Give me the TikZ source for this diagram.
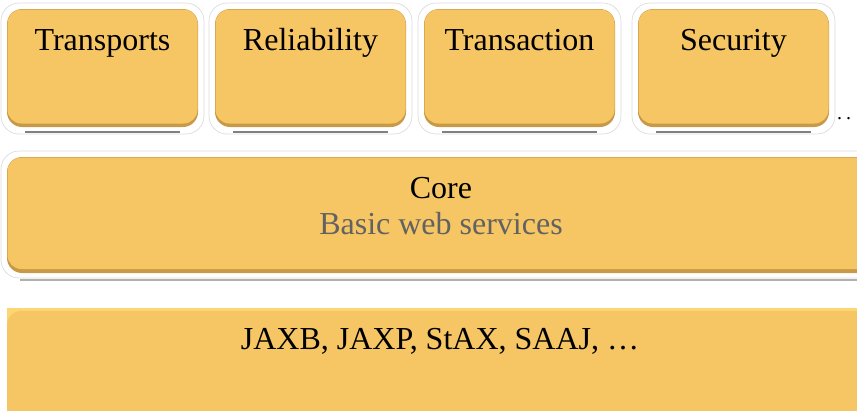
\documentclass[tikz,border=0pt]{standalone}
\usepackage{fontspec}
\setmainfont{Liberation Serif}

\definecolor{boxfill}{HTML}{F6C664}
\definecolor{boxedge}{HTML}{C89A48}
\definecolor{boxtop}{HTML}{FCD670}
\definecolor{halo}{HTML}{DCDCDC}
\definecolor{subtext}{HTML}{626262}

\tikzset{
  glow/.style={draw=halo, fill=white, line width=0.7pt, rounded corners=18pt},
  layerbase/.style={fill=boxedge, rounded corners=15pt},
  layer/.style={fill=boxfill, rounded corners=14pt},
  underline/.style={draw=gray, line width=2pt},
  softline/.style={draw=halo!80!black, line width=1.5pt},
  label/.style={font=\fontsize{32}{36}\selectfont, inner sep=0pt, anchor=base}
}

\begin{document}
\begin{tikzpicture}[x=1pt, y=-1pt]
\useasboundingbox (0,0) rectangle (857,410);

%% top row of feature boxes
\foreach \name/\x in {Transports/7, Reliability/215, Transaction/424, Security/638}{
  \draw[glow] (\x-6,3) rectangle (\x+197,134);
  \fill[layerbase] (\x,9) rectangle (\x+191,127);
  \fill[layer] (\x+0.5,9.5) rectangle (\x+190.5,123.5);
  \draw[underline] (\x+18,132) -- (\x+173,132);
  \node[label] (\name) at (\x+95.5,50) {\name};
}
\node[font=\fontsize{20}{24}\selectfont, inner sep=0pt, anchor=base west] (more) at (837,119) {.\kern4pt.};

%% core layer
\draw[glow] (1,151) rectangle (885,278);
\fill[layerbase] (7,157) rectangle (878,273);
\fill[layer] (7.5,157.5) rectangle (877.5,269);
\draw[softline] (20,280) -- (857,280);
\node[label] (core) at (441,198) {Core};
\node[label, text=subtext] (basic) at (441,234) {Basic web services};

%% bottom layer
\fill[boxtop] (7,308) rectangle (878,420);
\fill[layer] (7,311) rectangle (878,440);
\node[label] (xml) at (440,349) {JAXB, JAXP, StAX, SAAJ, …};

\end{tikzpicture}
\end{document}
